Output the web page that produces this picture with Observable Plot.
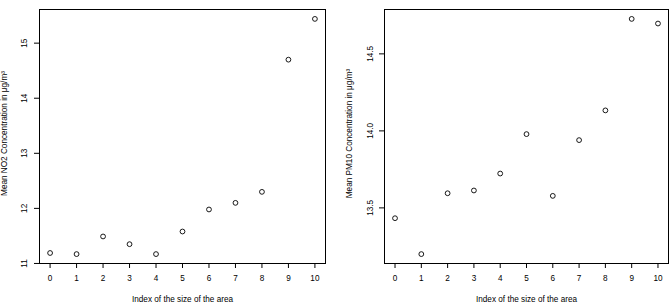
<!DOCTYPE html>
<html>
<head>
<meta charset="utf-8">
<script src="https://cdn.jsdelivr.net/npm/d3@7"></script>
<script src="https://cdn.jsdelivr.net/npm/@observablehq/plot@0.6"></script>
<style>
  html, body { margin: 0; padding: 0; background: #fff; }
  #wrap { display: flex; width: 672px; height: 305px; }
</style>
</head>
<body>
<div id="wrap"></div>
<script>
const areaIndex = [0, 1, 2, 3, 4, 5, 6, 7, 8, 9, 10];
const no2Values = [11.19, 11.17, 11.49, 11.35, 11.17, 11.58, 11.98, 12.10, 12.30, 14.70, 15.44];
const pm10Values = [13.433, 13.20, 13.595, 13.613, 13.723, 13.979, 13.578, 13.940, 14.133, 14.727, 14.697];
const xTicks = [0, 1, 2, 3, 4, 5, 6, 7, 8, 9, 10];
const no2Ticks = [11, 12, 13, 14, 15];
const pm10Ticks = [13.5, 14.0, 14.5];
const xTitle = "Index of the size of the area";
const no2Title = "Mean NO2 Concentration in μg/m³";
const pm10Title = "Mean PM10 Concentration in μg/m³";

function rDomain(vals) {
  const lo = d3.min(vals), hi = d3.max(vals), e = 0.04 * (hi - lo);
  return [lo - e, hi + e];
}

function panel(values, yTicks, yTitle, yFormat, margins, tickPad) {
  const data = areaIndex.map((x, i) => ({x, y: values[i]}));
  return Plot.plot({
    width: 336,
    height: 305,
    marginLeft: margins[0],
    marginRight: margins[1],
    marginTop: 9,
    marginBottom: 42,
    style: {fontFamily: "'Liberation Sans', Arial, sans-serif", fontSize: "8.2px", background: "#fff", color: "#000", overflow: "visible"},
    x: {domain: rDomain(areaIndex)},
    y: {domain: rDomain(values)},
    marks: [
      Plot.axisX({ticks: xTicks, tickSize: 5, tickPadding: 7, tickFormat: d => String(d), label: null, stroke: "#000"}),
      Plot.axisY({ticks: yTicks, tickSize: 5, tickPadding: tickPad, tickRotate: -90, tickFormat: yFormat, label: null, stroke: "#000"}),
      Plot.frame({stroke: "#000", strokeWidth: 1}),
      Plot.dot(data, {x: "x", y: "y", r: 2.4, stroke: "#000", strokeWidth: 0.9, fill: "none"}),
      Plot.text([xTitle], {text: d => d, frameAnchor: "bottom", textAnchor: "middle", lineAnchor: "middle", dy: 35.5, fill: "#000"}),
      Plot.text([yTitle], {text: d => d, frameAnchor: "left", textAnchor: "middle", lineAnchor: "middle", rotate: -90, dx: margins[2], dy: -3, fill: "#000"})
    ]
  });
}

const wrap = document.getElementById("wrap");
wrap.appendChild(panel(no2Values, no2Ticks, no2Title, d => String(d), [39, 11, -35], 7.75));
wrap.appendChild(panel(pm10Values, pm10Ticks, pm10Title, d => d.toFixed(1), [48, 4, -35], 7));
</script>
</body>
</html>
